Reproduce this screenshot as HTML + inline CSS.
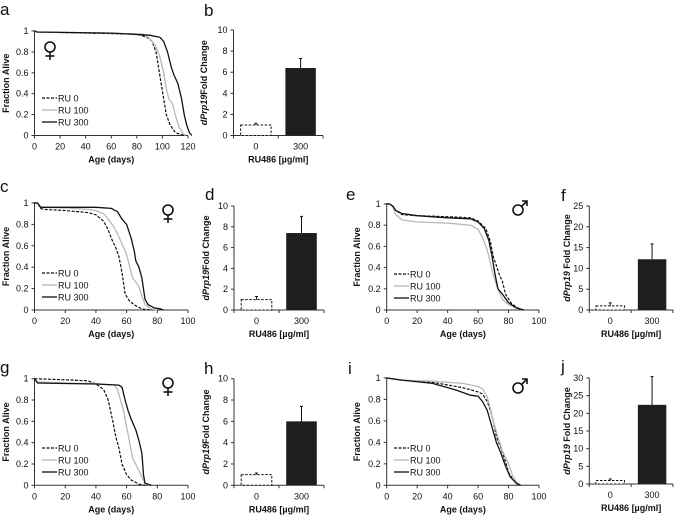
<!DOCTYPE html>
<html><head><meta charset="utf-8"><style>
html,body{margin:0;padding:0;background:#fff;}
svg{display:block;font-family:"Liberation Sans",Arial,sans-serif;}
</style></head><body>
<svg id="fig" width="675" height="517" viewBox="0 0 675 517" xmlns="http://www.w3.org/2000/svg"></svg>
<script>
// ---- survival data (age, fraction alive) ----
const aRU0=[[0,1],[2,0.99],[40,0.98],[60,0.975],[80,0.97],[88,0.94],[92,0.9],[95,0.8],[97,0.65],[99,0.5],[101,0.35],[103,0.2],[106,0.1],[110,0.03],[114,0.01],[118,0]];
const aRU100=[[0,1],[2,0.99],[60,0.98],[85,0.97],[90,0.93],[95,0.85],[98,0.75],[101,0.6],[103,0.45],[105,0.35],[108,0.3],[110,0.2],[113,0.08],[116,0.02],[118,0]];
const aRU300=[[0,1],[2,0.99],[60,0.98],[90,0.96],[98,0.94],[101,0.9],[104,0.8],[107,0.65],[109,0.58],[112,0.5],[115,0.35],[117,0.2],[119,0.1],[121,0.03],[123,0]];
const cRU0=[[0,1],[2,1],[4,0.95],[6,0.94],[20,0.93],[35,0.91],[40,0.89],[45,0.83],[48,0.75],[50,0.67],[53,0.58],[55,0.5],[57,0.35],[59,0.15],[62,0.08],[66,0.04],[70,0.01],[75,0]];
const cRU100=[[0,1],[2,1],[4,0.96],[20,0.955],[35,0.94],[40,0.93],[45,0.9],[48,0.85],[52,0.77],[56,0.65],[60,0.52],[62,0.4],[64,0.3],[66,0.26],[68,0.22],[70,0.13],[72,0.05],[76,0.01],[80,0]];
const cRU300=[[0,1],[2,1],[4,0.96],[6,0.96],[40,0.96],[50,0.95],[54,0.92],[57,0.85],[60,0.8],[63,0.67],[65,0.55],[66,0.46],[68,0.4],[70,0.3],[72,0.1],[74,0.05],[78,0.02],[82,0.01],[84,0]];
const eRU0=[[0,1],[2,1],[4,0.98],[6,0.94],[10,0.9],[20,0.89],[40,0.88],[55,0.87],[60,0.84],[65,0.77],[68,0.65],[70,0.5],[72,0.42],[74,0.33],[76,0.27],[78,0.15],[82,0.06],[86,0.02],[90,0]];
const eRU100=[[0,1],[2,1],[4,0.97],[6,0.9],[10,0.85],[20,0.83],[40,0.82],[55,0.8],[60,0.76],[63,0.68],[66,0.57],[68,0.45],[70,0.33],[73,0.2],[76,0.1],[80,0.05],[85,0.02],[90,0]];
const eRU300=[[0,1],[2,1],[4,0.98],[6,0.94],[10,0.91],[20,0.89],[40,0.87],[55,0.86],[60,0.83],[64,0.77],[67,0.66],[69,0.52],[71,0.35],[73,0.2],[76,0.15],[80,0.07],[85,0.02],[90,0]];
const gRU0=[[0,1],[20,0.99],[35,0.98],[40,0.95],[45,0.9],[48,0.8],[51,0.6],[53,0.45],[55,0.35],[57,0.2],[60,0.1],[63,0.05],[68,0.01],[72,0]];
const gRU100=[[0,1],[2,0.97],[20,0.96],[40,0.955],[52,0.94],[54,0.9],[56,0.8],[58,0.7],[60,0.55],[62,0.4],[64,0.25],[67,0.17],[70,0.08],[72,0.02],[75,0]];
const gRU300=[[0,1],[2,0.96],[20,0.955],[40,0.95],[55,0.94],[57,0.92],[59,0.8],[61,0.7],[63,0.62],[66,0.52],[68,0.42],[70,0.3],[71,0.1],[72,0.02],[76,0]];
const iRU0=[[0,1],[10,0.98],[30,0.96],[50,0.91],[60,0.87],[63,0.85],[66,0.78],[68,0.7],[70,0.6],[72,0.45],[75,0.35],[78,0.22],[80,0.12],[83,0.05],[86,0.01],[88,0]];
const iRU100=[[0,1],[10,0.98],[30,0.97],[50,0.95],[60,0.92],[63,0.9],[66,0.82],[68,0.72],[70,0.6],[73,0.45],[76,0.32],[80,0.2],[83,0.08],[86,0.02],[88,0]];
const iRU300=[[0,1],[10,0.98],[30,0.95],[45,0.89],[55,0.84],[60,0.83],[63,0.78],[66,0.7],[68,0.6],[70,0.5],[72,0.4],[75,0.3],[78,0.18],[81,0.08],[85,0.02],[88,0]];
// ---- bar data ----
const barCategories=["0","300"];
const bValues=[1,6.4], bErr=[0.15,0.9];
const dValues=[1,7.4], dErr=[0.3,1.6];
const fValues=[1,12.2], fErr=[0.7,3.7];
const hValues=[1,6.0], hErr=[0.15,1.4];
const jValues=[1,22.4], jErr=[0.4,8];
const survYTicks=["0","0.2","0.4","0.6","0.8","1"];
const legendLabels=["RU 0","RU 100","RU 300"];

const svg=document.getElementById('fig');
const NS="http://www.w3.org/2000/svg";
function el(tag,attrs,parent){const e=document.createElementNS(NS,tag);for(const k in attrs)e.setAttribute(k,attrs[k]);(parent||svg).appendChild(e);return e;}
function txt(x,y,s,opts,parent){const t=el('text',Object.assign({x:x,y:y,'font-size':9,fill:'#111'},opts||{}),parent);t.textContent=s;return t;}

function sexSymbol(g,kind,cx,cy){
  const s=el('g',{stroke:'#111','stroke-width':1.6,fill:'none'},g);
  
  
  el('circle',{cx:cx,cy:cy,r:5},s);
  if(kind=='F'){
    el('line',{x1:cx,x2:cx,y1:cy+5,y2:cy+13},s);
    el('line',{x1:cx-4.5,x2:cx+4.5,y1:cy+9,y2:cy+9},s);
  }else{
    el('line',{x1:cx+3.5,y1:cy-3.5,x2:cx+9,y2:cy-9},s);
    el('path',{d:`M${cx+4} ${cy-9}H${cx+9}V${cy-4}`},s);
  }
}

function survival(p){
  const g=el('g',{});
  
  
  const sx=v=>p.x0+(v/p.xmax)*(p.x1-p.x0);
  const sy=v=>p.y0+(v)*(p.y1-p.y0);
  const ax=el('path',{d:`M${p.x0} ${p.y1-1}V${p.y0}H${p.x1}`,stroke:'#333','stroke-width':1,fill:'none'},g);
  
  
  for(let i=0;i<survYTicks.length;i++){
    const v=parseFloat(survYTicks[i]),y=sy(v);
    el('line',{x1:p.x0-3,x2:p.x0,y1:y,y2:y,stroke:'#333'},g);
    const t=txt(p.x0-6,y+3,survYTicks[i],{'text-anchor':'end'},g);
    
    
  }
  for(let v=0;v<=p.xmax;v+=20){
    const x=sx(v);
    el('line',{x1:x,x2:x,y1:p.y0,y2:p.y0+3,stroke:'#333'},g);
    const t=txt(x,p.y0+14,String(v),{'text-anchor':'middle'},g);
    
    
  }
  const xt=txt((p.x0+p.x1)/2,p.y0+27,'Age (days)',{'text-anchor':'middle','font-weight':'bold'},g);
  
  
  const yt=txt(0,0,'Fraction Alive',{'text-anchor':'middle','font-weight':'bold',transform:`translate(${p.ytx},${(p.y0+p.y1)/2}) rotate(-90)`},g);
  
  
  const styles=[{stroke:'#111','stroke-width':1.2,'stroke-dasharray':'3,1.5'},{stroke:'#b8b8b8','stroke-width':1.3},{stroke:'#111','stroke-width':1.3}];
  const names=['series-ru0','series-ru100','series-ru300'];
  p.series.forEach((s,i)=>{
    const d=s.map((pt,j)=>(j?'L':'M')+sx(pt[0]).toFixed(1)+' '+sy(pt[1]).toFixed(1)).join('');
    const pa=el('path',Object.assign({d:d,fill:'none'},styles[i]),g);
    
    
  });
  legendLabels.forEach((l,i)=>{
    const y=p.ly+i*12;
    const lg=el('g',{},g);
    
    
    el('line',Object.assign({x1:p.lx,x2:p.lx+15,y1:y,y2:y},styles[i]),lg);
    txt(p.lx+16,y+3.5,l,{},lg);
  });
  sexSymbol(g,p.symKind,p.sym[0],p.sym[1]);
  const pl=txt(p.lab[0],p.lab[1],p.id,{'font-size':17},g);
  
  
}

function bars(p){
  const g=el('g',{});
  
  
  const sy=v=>p.y0-(v/p.ymax)*(p.y0-p.y1);
  el('path',{d:`M${p.ax} ${p.y1}V${p.y0}H${p.xe}`,stroke:'#333',fill:'none'},g);
  for(let v=0;v<=p.ymax;v+=p.step){
    const y=sy(v);
    el('line',{x1:p.ax-3,x2:p.ax,y1:y,y2:y,stroke:'#333'},g);
    const t=txt(p.ax-6,y+3,String(v),{'text-anchor':'end'},g);
    
    
  }
  const mid=(p.ax+p.xe)/2;
  [p.ax,mid,p.xe].forEach(x=>el('line',{x1:x,x2:x,y1:p.y0,y2:p.y0+3,stroke:'#333'},g));
  const w=(p.xe-p.ax)/2, bw=w*0.68;
  p.values.forEach((v,i)=>{
    const cx=p.ax+w*(i+0.5), top=sy(v);
    const r=el('rect',i==0?{x:cx-bw/2,y:top,width:bw,height:p.y0-top,fill:'#fff',stroke:'#111','stroke-width':1,'stroke-dasharray':'2.5,1.5'}:{x:cx-bw/2,y:top,width:bw,height:p.y0-top,fill:'#1e1e1e'},g);
    
    
    const et=sy(v+p.err[i]);
    const eb=el('path',{d:`M${cx} ${top}V${et}M${cx-1.5} ${et}H${cx+1.5}`,stroke:'#111','stroke-width':1,fill:'none'},g);
    
    
    const t=txt(cx,p.y0+14,barCategories[i],{'text-anchor':'middle'},g);
    
    
  });
  const xt=txt(mid,p.y0+27,'RU486 [µg/ml]',{'text-anchor':'middle','font-weight':'bold'},g);
  
  
  const yt=el('text',{'font-size':9,'font-weight':'bold','text-anchor':'middle',fill:'#111',transform:`translate(${p.ytx},${(p.y0+p.y1)/2}) rotate(-90)`},g);
  
  
  const t1=el('tspan',{'font-style':'italic'},yt);t1.textContent='dPrp19';
  const t2=el('tspan',{},yt);t2.textContent=p.space?' Fold Change':'Fold Change';
  const pl=txt(p.lab[0],p.lab[1],p.id,{'font-size':17},g);
  
  
}

survival({id:'a',x0:34.5,x1:188,xmax:120,y0:135.5,y1:31,ytx:9,series:[aRU0,aRU100,aRU300],lx:42,ly:98,sym:[50,47],symKind:'F',lab:[0,15]});
bars({id:'b',ax:233.5,xe:323,y0:135.5,y1:30,ymax:10,step:2,values:bValues,err:bErr,ytx:207,lab:[204,16],space:false});
survival({id:'c',x0:34.5,x1:188,xmax:100,y0:310,y1:203,ytx:9,series:[cRU0,cRU100,cRU300],lx:42,ly:273,sym:[168,210],symKind:'F',lab:[0,192]});
bars({id:'d',ax:234,xe:324,y0:310,y1:206,ymax:10,step:2,values:dValues,err:dErr,ytx:209,lab:[205,200],space:false});
survival({id:'e',x0:386.7,x1:539,xmax:100,y0:310,y1:204,ytx:360,series:[eRU0,eRU100,eRU300],lx:394,ly:274,sym:[518,210],symKind:'M',lab:[346,200]});
bars({id:'f',ax:589.3,xe:673,y0:310,y1:206,ymax:25,step:5,values:fValues,err:fErr,ytx:570,lab:[561,201],space:true});
survival({id:'g',x0:34.5,x1:188,xmax:100,y0:485.3,y1:378.7,ytx:9,series:[gRU0,gRU100,gRU300],lx:42,ly:448,sym:[168,383],symKind:'F',lab:[0,373]});
bars({id:'h',ax:234,xe:324,y0:485.3,y1:378.7,ymax:10,step:2,values:hValues,err:hErr,ytx:209,lab:[204,374],space:false});
survival({id:'i',x0:386.7,x1:539,xmax:100,y0:485.3,y1:378,ytx:360,series:[iRU0,iRU100,iRU300],lx:394,ly:448,sym:[518,388],symKind:'M',lab:[348,374]});
bars({id:'j',ax:589.3,xe:673,y0:484,y1:378,ymax:30,step:5,values:jValues,err:jErr,ytx:570,lab:[561,372],space:true});
</script>
</body></html>
